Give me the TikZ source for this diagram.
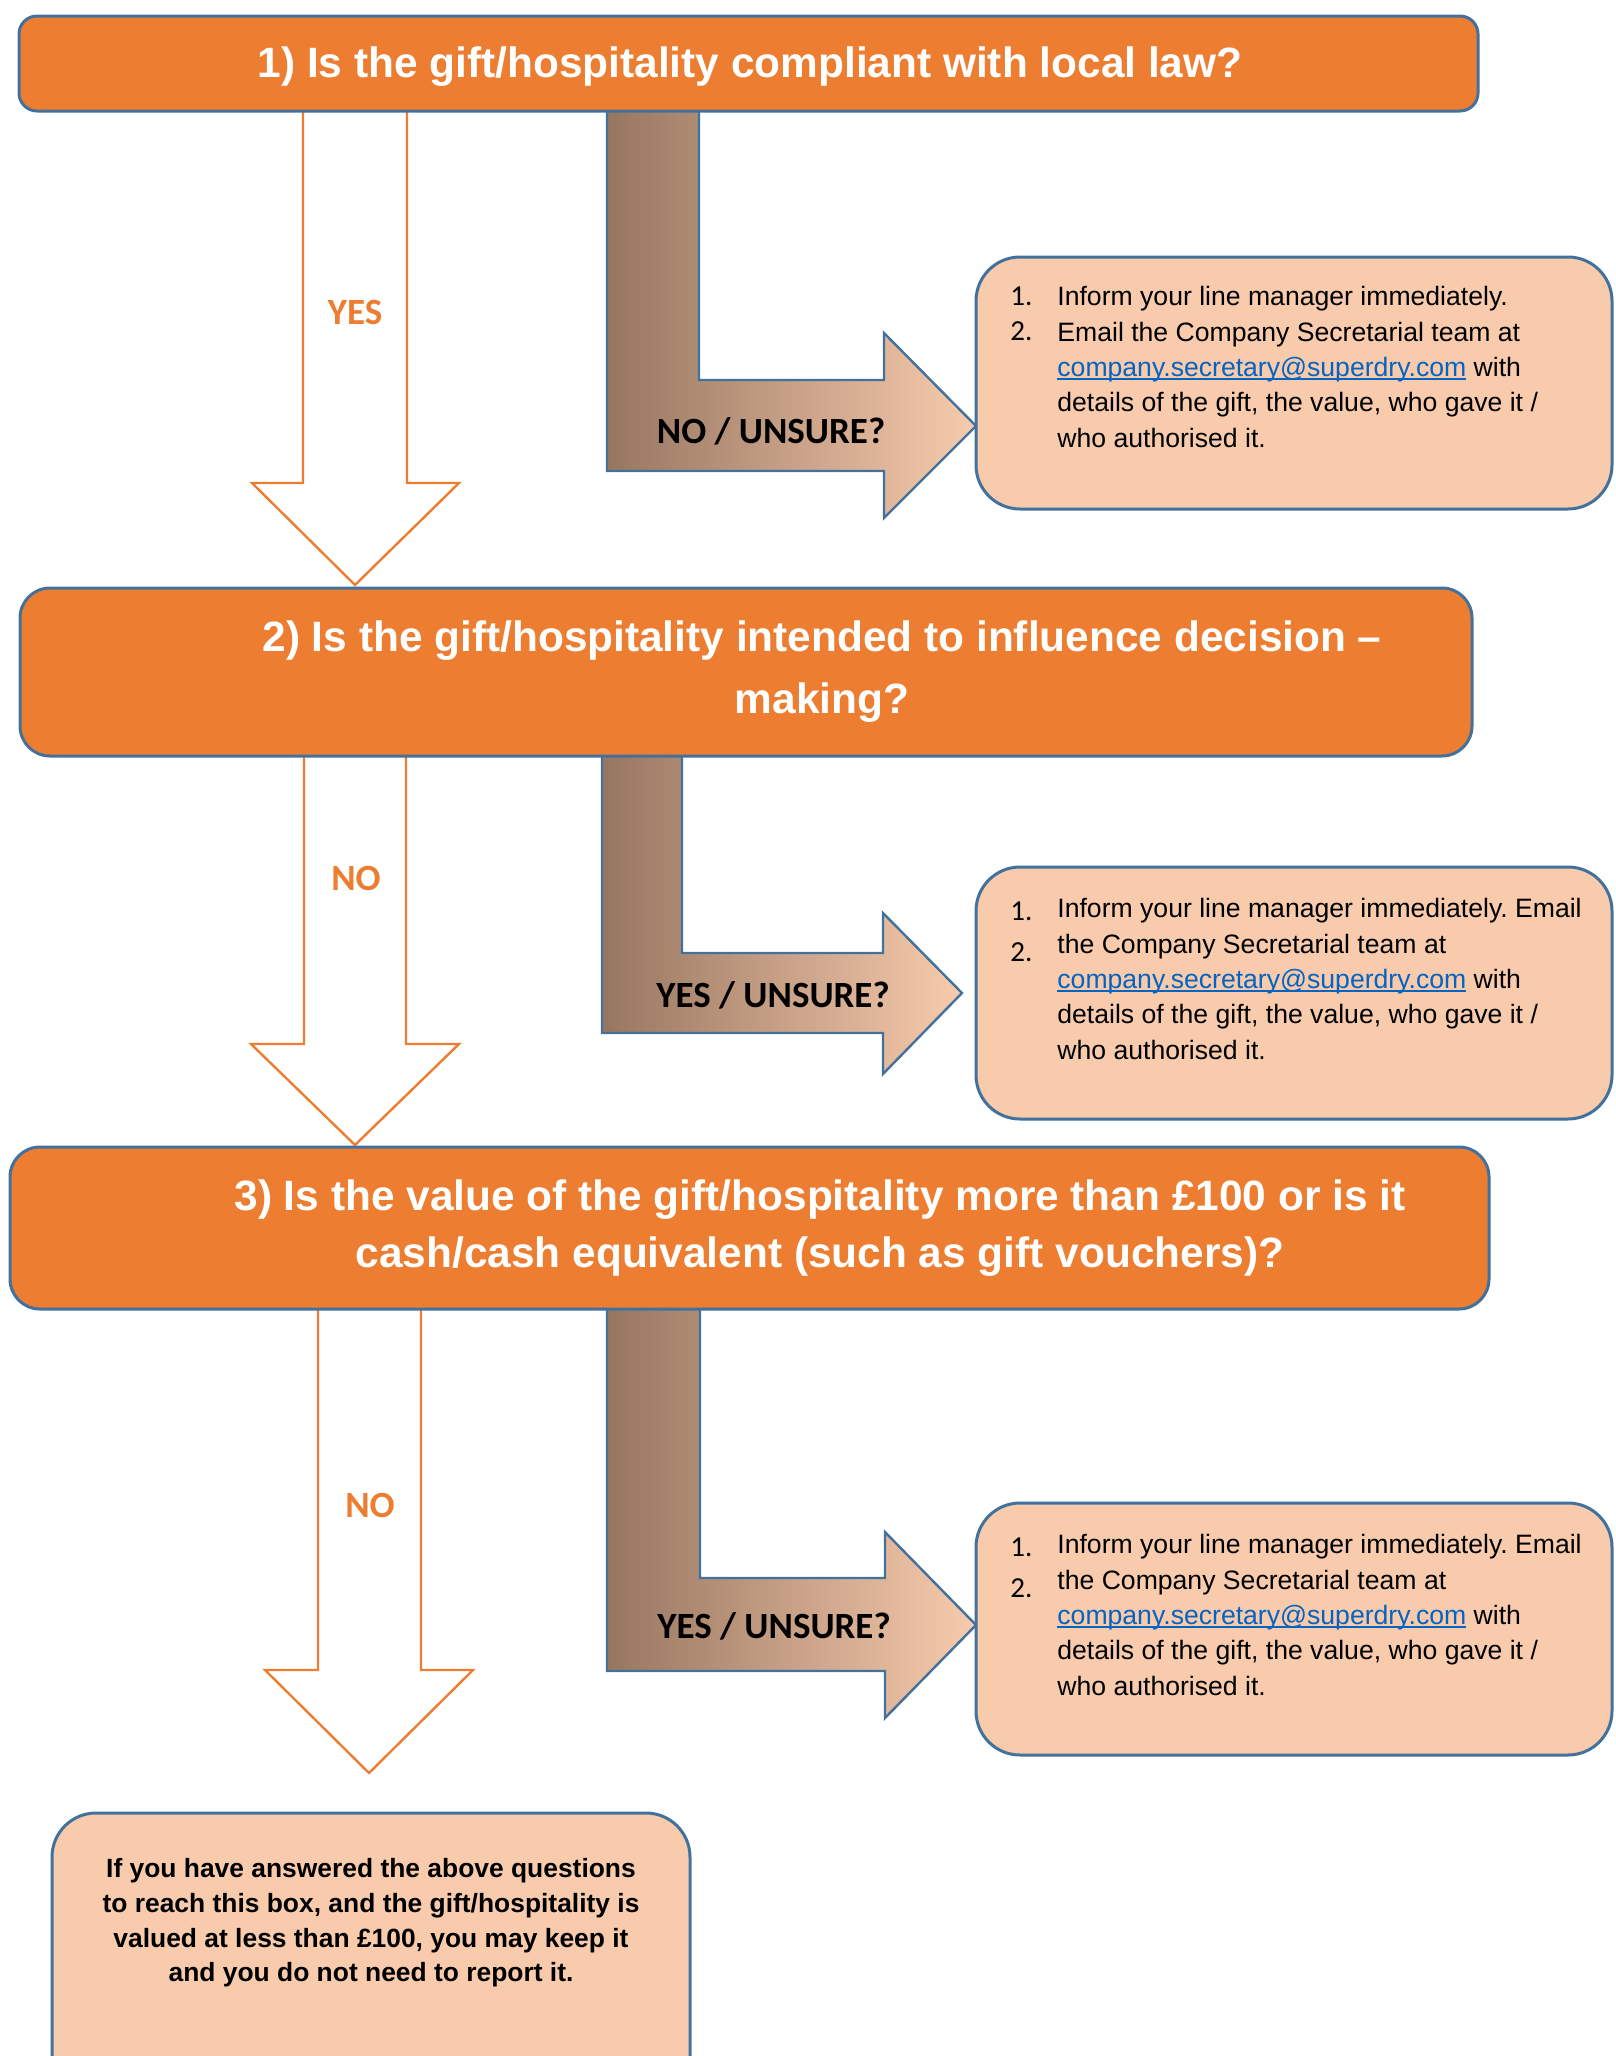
\documentclass[tikz,border=0pt]{standalone}
\usepackage{fontspec}
\setmainfont{Liberation Sans}
\newfontfamily\calibrifont{Carlito}
\usepackage{tikz}
\frenchspacing
\definecolor{qorange}{HTML}{ED7D31}
\definecolor{edgeblue}{HTML}{41719C}
\definecolor{peach}{HTML}{F8CBAD}
\definecolor{darkbrown}{HTML}{977660}
\definecolor{linkblue}{HTML}{0563C1}
\newsavebox{\linkbox}
\newcommand{\maillink}[1]{\sbox{\linkbox}{\color{linkblue}#1}\rlap{\color{linkblue}\rule[-1.8pt]{\wd\linkbox}{0.9pt}}\usebox{\linkbox}}

\begin{document}
\begin{tikzpicture}[x=0.5pt,y=-0.5pt,
  qbox/.style={draw=edgeblue,line width=1.5pt,fill=qorange},
  infobox/.style={draw=edgeblue,line width=1.5pt,fill=peach,rounded corners=22pt},
  downarrow/.style={draw=qorange,line width=1.2pt,fill=white},
  bentarrow/.style={draw=edgeblue,line width=1.2pt,left color=darkbrown,right color=peach},
  qtext/.style={text=white,font=\fontsize{21.2}{31}\selectfont\bfseries,align=center,inner sep=0pt},
  answer/.style={font=\calibrifont\fontsize{18.5}{20}\selectfont\bfseries,inner sep=0pt,anchor=base},
  infotext/.style={font=\fontsize{13.3}{17.7}\selectfont,align=left,anchor=north west,inner sep=0pt},
  numtext/.style={font=\calibrifont\fontsize{14.5}{16}\selectfont,anchor=base west,inner sep=0pt}]
  \useasboundingbox (0,0) rectangle (1616,2056);
  \clip (0,0) rectangle (1616,2056);

  % white down arrows
  \draw[downarrow] (303,100) -- (303,483) -- (252,483) -- (355,585) -- (459,483) -- (407,483) -- (407,100) -- cycle;
  \draw[downarrow] (304,745) -- (304,1044) -- (251,1044) -- (355,1145) -- (459,1044) -- (406,1044) -- (406,745) -- cycle;
  \draw[downarrow] (318,1300) -- (318,1670) -- (265,1670) -- (369,1773) -- (473,1670) -- (421,1670) -- (421,1300) -- cycle;

  % bent arrows
  \draw[bentarrow] (607,100) -- (607,471) -- (884,471) -- (884,518) -- (976,426) -- (884,333) -- (884,380) -- (699,380) -- (699,100) -- cycle;
  \draw[bentarrow] (602,745) -- (602,1033) -- (883,1033) -- (883,1074) -- (962,993) -- (883,913) -- (883,953) -- (682,953) -- (682,745) -- cycle;
  \draw[bentarrow] (607,1300) -- (607,1671) -- (885,1671) -- (885,1718) -- (976,1625) -- (885,1532) -- (885,1578) -- (700,1578) -- (700,1300) -- cycle;

  % question boxes
  \draw[qbox,rounded corners=9pt] (19,16) rectangle (1478,111);
  \draw[qbox,rounded corners=15pt] (20,588) rectangle (1472,756);
  \draw[qbox,rounded corners=15pt] (10,1147) rectangle (1489,1309);
  \node[qtext,anchor=base] (q1) at (750,77) {1) Is the gift/hospitality compliant with local law?};
  \node[qtext] (q2) at (822,672) {2) Is the gift/hospitality intended to influence decision –\\making?};
  \node[qtext,font=\fontsize{21.2}{28.5}\selectfont\bfseries] (q3) at (820,1228) {3) Is the value of the gift/hospitality more than £100 or is it\\cash/cash equivalent (such as gift vouchers)?};

  % answers
  \node[answer,text=qorange] (yes1) at (355,324) {YES};
  \node[answer,text=qorange] (no2) at (356,890) {NO};
  \node[answer,text=qorange] (no3) at (370,1517) {NO};
  \node[answer] (unsure1) at (771,443) {NO / UNSURE?};
  \node[answer] (unsure2) at (773,1007) {YES / UNSURE?};
  \node[answer] (unsure3) at (774,1638) {YES / UNSURE?};

  % action boxes
  \draw[infobox] (976,257) rectangle (1612,509);
  \draw[infobox] (976,867) rectangle (1612,1119);
  \draw[infobox] (976,1503) rectangle (1612,1755);
  \node[numtext] (n1a) at (1010,305) {1.};
  \node[numtext] (n1b) at (1010,340) {2.};
  \node[infotext] (act1) at (1057,286) {Inform your line manager immediately.\\Email the Company Secretarial team at\\\maillink{company.secretary@superdry.com} with\\details of the gift, the value, who gave it /\\who authorised it.};
  \node[numtext] (n2a) at (1010,920) {1.};
  \node[numtext] (n2b) at (1010,961) {2.};
  \node[infotext] (act2) at (1057,898) {Inform your line manager immediately. Email\\the Company Secretarial team at\\\maillink{company.secretary@superdry.com} with\\details of the gift, the value, who gave it /\\who authorised it.};
  \node[numtext] (n3a) at (1010,1556) {1.};
  \node[numtext] (n3b) at (1010,1597) {2.};
  \node[infotext] (act3) at (1057,1534) {Inform your line manager immediately. Email\\the Company Secretarial team at\\\maillink{company.secretary@superdry.com} with\\details of the gift, the value, who gave it /\\who authorised it.};

  % final box
  \draw[infobox] (52,1813) rectangle (690,2120);
  \node[align=center,inner sep=0pt,font=\fontsize{13.2}{17.3}\selectfont\bfseries] (keep) at (371,1923) {If you have answered the above questions\\to reach this box, and the gift/hospitality is\\valued at less than £100, you may keep it\\and you do not need to report it.};
\end{tikzpicture}
\end{document}
